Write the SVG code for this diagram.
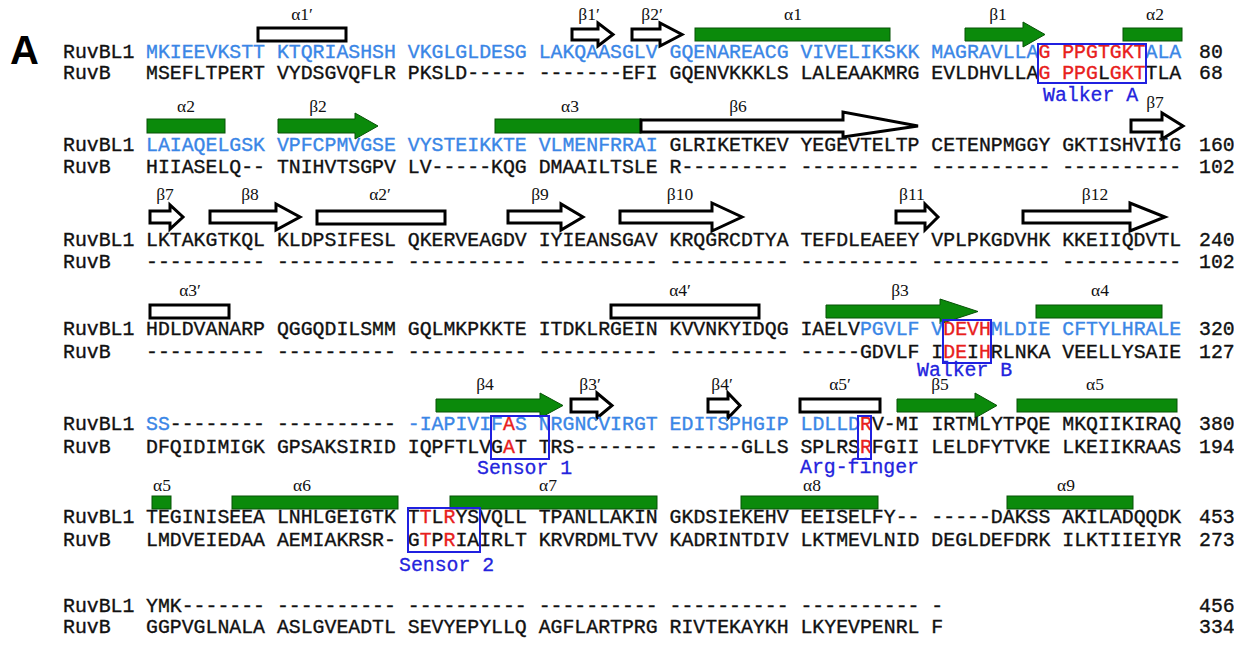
<svg xmlns="http://www.w3.org/2000/svg" width="1234" height="646" viewBox="0 0 1234 646">
<style>
.s{font-family:"Liberation Mono","Courier New",monospace;font-size:19.83px;fill:#111;white-space:pre;stroke:#111;stroke-width:0.35}
.b{fill:#3a86e6;stroke:#3a86e6}
.r{fill:#e8201c;stroke:#e8201c}
.lb{font-family:"Liberation Serif","Times New Roman",serif;font-size:17.5px;fill:#111;text-anchor:middle}
.g{fill:#0b8a0b;stroke:#075207;stroke-width:1}
.w{fill:#fff;stroke:#000;stroke-width:3}
.bx{fill:none;stroke:#2020e0;stroke-width:2}
.bl{font-family:"Liberation Mono","Courier New",monospace;font-size:19.83px;fill:#2323dd;stroke:#2323dd;stroke-width:0.3}
.n{font-family:"Liberation Mono","Courier New",monospace;font-size:19.83px;fill:#111;stroke:#111;stroke-width:0.35}
</style>
<rect width="1234" height="646" fill="#fff"/>
<text x="10" y="64" font-family="Liberation Sans, Arial, sans-serif" font-size="40" font-weight="bold" fill="#000">A</text>

<g id="ss-row1">
<rect class="w" x="258" y="28" width="88" height="13"/><text class="lb" x="302" y="20">α1′</text>
<path class="w" d="M572,29 H598 V23 L613,34.5 L598,46 V40 H572 Z"/><text class="lb" x="589" y="20">β1′</text>
<path class="w" d="M632,29 H660 V23 L682,34.5 L660,46 V40 H632 Z"/><text class="lb" x="652" y="20">β2′</text>
<rect class="g" x="695" y="28" width="195" height="13"/><text class="lb" x="793" y="20">α1</text>
<path class="g" d="M965,28 H1023 V22 L1045,34.5 L1023,47 V41 H965 Z"/><text class="lb" x="998" y="20">β1</text>
<rect class="g" x="1123" y="28" width="59" height="13"/><text class="lb" x="1155" y="20">α2</text>
</g>

<g id="ss-row2">
<rect class="g" x="147" y="119" width="78" height="14"/><text class="lb" x="186" y="112">α2</text>
<path class="g" d="M278,119 H355 V113 L378,126 L355,139 V133 H278 Z"/><text class="lb" x="318" y="112">β2</text>
<rect class="g" x="495" y="119" width="146" height="14"/><text class="lb" x="570" y="112">α3</text>
<path class="w" d="M641,120 H843 V112 L918,126 L843,137 V132 H641 Z"/><text class="lb" x="738" y="112">β6</text>
<path class="w" d="M1131,120 H1162 V113 L1183,126 L1162,139 V132 H1131 Z"/><text class="lb" x="1155" y="108">β7</text>
</g>

<g id="ss-row3">
<path class="w" d="M150,211 H170 V205 L183,217 L170,229 V223 H150 Z"/><text class="lb" x="165" y="200">β7</text>
<path class="w" d="M210,211 H276 V204 L300,217 L276,230 V223 H210 Z"/><text class="lb" x="250" y="200">β8</text>
<rect class="w" x="317" y="211" width="128" height="13"/><text class="lb" x="380" y="200">α2′</text>
<path class="w" d="M508,211 H561 V204 L583,217 L561,230 V223 H508 Z"/><text class="lb" x="540" y="200">β9</text>
<path class="w" d="M620,211 H712 V203 L742,217 L712,231 V223 H620 Z"/><text class="lb" x="680" y="200">β10</text>
<path class="w" d="M896,211 H925 V204 L938,217 L925,230 V223 H896 Z"/><text class="lb" x="912" y="200">β11</text>
<path class="w" d="M1023,211 H1130 V203 L1165,217 L1130,231 V223 H1023 Z"/><text class="lb" x="1095" y="200">β12</text>
</g>

<g id="ss-row4">
<rect class="w" x="150" y="305" width="79" height="13"/><text class="lb" x="190" y="296">α3′</text>
<rect class="w" x="611" y="305" width="148" height="13"/><text class="lb" x="680" y="296">α4′</text>
<path class="g" d="M826,305 H940 V299 L978,311.5 L940,324 V318 H826 Z"/><text class="lb" x="900" y="296">β3</text>
<rect class="g" x="1036" y="305" width="126" height="13"/><text class="lb" x="1100" y="296">α4</text>
</g>

<g id="ss-row5">
<path class="g" d="M436,399 H540 V393 L563,405.5 L540,418 V412 H436 Z"/><text class="lb" x="485" y="390">β4</text>
<path class="w" d="M571,399 H597 V393 L612,405.5 L597,418 V412 H571 Z"/><text class="lb" x="590" y="390">β3′</text>
<path class="w" d="M708,399 H728 V393 L740,405.5 L728,418 V412 H708 Z"/><text class="lb" x="722" y="390">β4′</text>
<rect class="w" x="800" y="399" width="80" height="13"/><text class="lb" x="840" y="390">α5′</text>
<path class="g" d="M897,399 H975 V393 L997,405.5 L975,418 V412 H897 Z"/><text class="lb" x="940" y="390">β5</text>
<rect class="g" x="1017" y="399" width="160" height="13"/><text class="lb" x="1095" y="390">α5</text>
</g>

<g id="ss-row6">
<rect class="g" x="152" y="496" width="19" height="13"/><text class="lb" x="162" y="491">α5</text>
<rect class="g" x="232" y="496" width="166" height="13"/><text class="lb" x="302" y="491">α6</text>
<rect class="g" x="450" y="496" width="207" height="13"/><text class="lb" x="548" y="491">α7</text>
<rect class="g" x="741" y="496" width="137" height="13"/><text class="lb" x="812" y="491">α8</text>
<rect class="g" x="1007" y="496" width="126" height="13"/><text class="lb" x="1066" y="491">α9</text>
</g>

<g id="row1">
<text class="s" x="63" y="58">RuvBL1</text>
<text class="s" x="146" y="58"><tspan class="b">MKIEEVKSTT KTQRIASHSH VKGLGLDESG LAKQAASGLV GQENAREACG VIVELIKSKK MAGRAVLLA</tspan><tspan class="r">G PPGTGKT</tspan><tspan class="b">ALA</tspan></text>
<text class="n" x="1199" y="58">80</text>
<text class="s" x="63" y="79">RuvB</text>
<text class="s" x="146" y="79">MSEFLTPERT VYDSGVQFLR PKSLD----- -------EFI GQENVKKKLS LALEAAKMRG EVLDHVLLA<tspan class="r">G PPG</tspan>L<tspan class="r">GKT</tspan>TLA</text>
<text class="n" x="1199" y="79">68</text>
</g>

<g id="row2">
<text class="s" x="63" y="151">RuvBL1</text>
<text class="s" x="146" y="151"><tspan class="b">LAIAQELGSK VPFCPMVGSE VYSTEIKKTE VLMENFRRAI</tspan> GLRIKETKEV YEGEVTELTP CETENPMGGY GKTISHVIIG</text>
<text class="n" x="1199" y="151">160</text>
<text class="s" x="63" y="173">RuvB</text>
<text class="s" x="146" y="173">HIIASELQ-- TNIHVTSGPV LV-----KQG DMAAILTSLE R--------- ---------- ---------- ----------</text>
<text class="n" x="1199" y="173">102</text>
</g>

<g id="row3">
<text class="s" x="63" y="246">RuvBL1</text>
<text class="s" x="146" y="246">LKTAKGTKQL KLDPSIFESL QKERVEAGDV IYIEANSGAV KRQGRCDTYA TEFDLEAEEY VPLPKGDVHK KKEIIQDVTL</text>
<text class="n" x="1199" y="246">240</text>
<text class="s" x="63" y="268">RuvB</text>
<text class="s" x="146" y="268">---------- ---------- ---------- ---------- ---------- ---------- ---------- ----------</text>
<text class="n" x="1199" y="268">102</text>
</g>

<g id="row4">
<text class="s" x="63" y="335">RuvBL1</text>
<text class="s" x="146" y="335">HDLDVANARP QGGQDILSMM GQLMKPKKTE ITDKLRGEIN KVVNKYIDQG IAELV<tspan class="b">PGVLF V</tspan><tspan class="r">DEVH</tspan><tspan class="b">MLDIE CFTYLHRALE</tspan></text>
<text class="n" x="1199" y="335">320</text>
<text class="s" x="63" y="358">RuvB</text>
<text class="s" x="146" y="358">---------- ---------- ---------- ---------- ---------- -----GDVLF I<tspan class="r">DE</tspan>I<tspan class="r">H</tspan>RLNKA VEELLYSAIE</text>
<text class="n" x="1199" y="358">127</text>
</g>

<g id="row5">
<text class="s" x="63" y="430">RuvBL1</text>
<text class="s" x="146" y="430"><tspan class="b">SS</tspan>-------- ---------- <tspan class="b">-IAPIVIF</tspan><tspan class="r">A</tspan><tspan class="b">S NRGNCVIRGT EDITSPHGIP LDLLD</tspan><tspan class="r">R</tspan>V-MI IRTMLYTPQE MKQIIKIRAQ</text>
<text class="n" x="1199" y="430">380</text>
<text class="s" x="63" y="453">RuvB</text>
<text class="s" x="146" y="453">DFQIDIMIGK GPSAKSIRID IQPFTLVG<tspan class="r">A</tspan>T TRS------- ------GLLS SPLRS<tspan class="r">R</tspan>FGII LELDFYTVKE LKEIIKRAAS</text>
<text class="n" x="1199" y="453">194</text>
</g>

<g id="row6">
<text class="s" x="63" y="523">RuvBL1</text>
<text class="s" x="146" y="523">TEGINISEEA LNHLGEIGTK T<tspan class="r">T</tspan>L<tspan class="r">R</tspan>YSVQLL TPANLLAKIN GKDSIEKEHV EEISELFY-- -----DAKSS AKILADQQDK</text>
<text class="n" x="1199" y="523">453</text>
<text class="s" x="63" y="546">RuvB</text>
<text class="s" x="146" y="546">LMDVEIEDAA AEMIAKRSR- G<tspan class="r">T</tspan>P<tspan class="r">R</tspan>IAIRLT KRVRDMLTVV KADRINTDIV LKTMEVLNID DEGLDEFDRK ILKTIIEIYR</text>
<text class="n" x="1199" y="546">273</text>
</g>

<g id="row7">
<text class="s" x="63" y="612">RuvBL1</text>
<text class="s" x="146" y="612">YMK------- ---------- ---------- ---------- ---------- ---------- -</text>
<text class="n" x="1199" y="612">456</text>
<text class="s" x="63" y="633">RuvB</text>
<text class="s" x="146" y="633">GGPVGLNALA ASLGVEADTL SEVYEPYLLQ AGFLARTPRG RIVTEKAYKH LKYEVPENRL F</text>
<text class="n" x="1199" y="633">334</text>
</g>

<g id="motif-walkerA">
<rect class="bx" x="1038" y="44" width="108" height="39"/>
<text class="bl" x="1043" y="101">Walker A</text>
</g>
<g id="motif-walkerB">
<rect class="bx" x="943" y="320" width="48" height="43"/>
<text class="bl" x="917" y="376">Walker B</text>
</g>
<g id="motif-sensor1">
<rect class="bx" x="491" y="416" width="58" height="43"/>
<text class="bl" x="477" y="474">Sensor 1</text>
</g>
<g id="motif-argfinger">
<rect class="bx" x="858" y="416" width="13" height="43" stroke-width="1.2"/>
<text class="bl" x="800" y="473">Arg-finger</text>
</g>
<g id="motif-sensor2">
<rect class="bx" x="408" y="508" width="72" height="44"/>
<text class="bl" x="399" y="571">Sensor 2</text>
</g>
</svg>
